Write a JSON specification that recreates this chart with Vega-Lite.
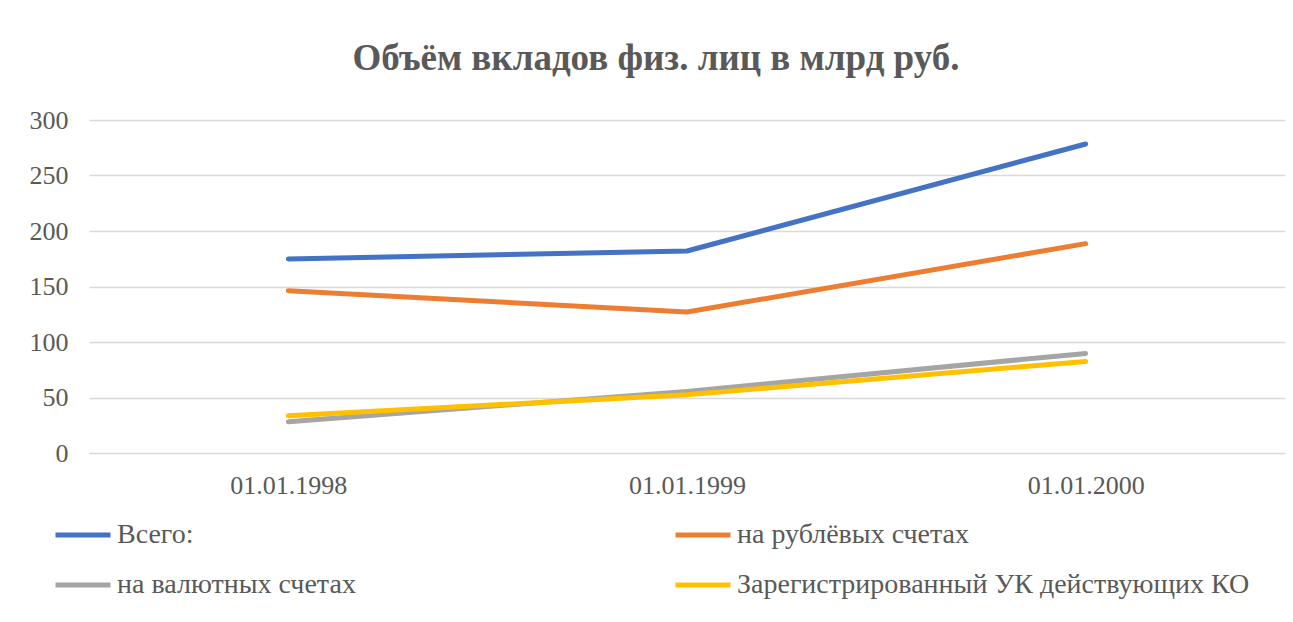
{
  "$schema": "https://vega.github.io/schema/vega-lite/v6.json",
  "autosize": {"type": "none"},
  "padding": {"left": 89, "top": 120, "right": 8, "bottom": 169},
  "width": 1196,
  "height": 333,
  "background": "white",
  "config": {
    "view": {"stroke": null},
    "font": "Liberation Serif"
  },
  "title": {
    "text": "Объём вкладов физ. лиц в млрд руб.",
    "font": "Liberation Serif",
    "fontSize": 37,
    "fontWeight": "bold",
    "color": "#595959",
    "anchor": "middle",
    "dx": -31,
    "offset": 29
  },
  "data": {
    "values": [
      {"date": "01.01.1998", "series": "Всего:", "value": 174.8},
      {"date": "01.01.1999", "series": "Всего:", "value": 182},
      {"date": "01.01.2000", "series": "Всего:", "value": 278.4},
      {"date": "01.01.1998", "series": "на рублёвых счетах", "value": 146.2},
      {"date": "01.01.1999", "series": "на рублёвых счетах", "value": 127},
      {"date": "01.01.2000", "series": "на рублёвых счетах", "value": 188.6},
      {"date": "01.01.1998", "series": "на валютных счетах", "value": 28.2},
      {"date": "01.01.1999", "series": "на валютных счетах", "value": 55.5},
      {"date": "01.01.2000", "series": "на валютных счетах", "value": 89.7},
      {"date": "01.01.1998", "series": "Зарегистрированный УК действующих КО", "value": 33.6},
      {"date": "01.01.1999", "series": "Зарегистрированный УК действующих КО", "value": 52.5},
      {"date": "01.01.2000", "series": "Зарегистрированный УК действующих КО", "value": 82.5}
    ]
  },
  "mark": {"type": "line", "strokeWidth": 5, "strokeCap": "round", "strokeJoin": "round"},
  "encoding": {
    "x": {
      "field": "date",
      "type": "ordinal",
      "scale": {"type": "point", "padding": 0.5},
      "axis": {
        "title": null,
        "labelAngle": 0,
        "labelFont": "Liberation Serif",
        "labelFontSize": 26,
        "labelColor": "#595959",
        "labelPadding": 19,
        "ticks": false,
        "domain": false,
        "grid": false
      }
    },
    "y": {
      "field": "value",
      "type": "quantitative",
      "scale": {"domain": [0, 300], "nice": false},
      "axis": {
        "title": null,
        "values": [0, 50, 100, 150, 200, 250, 300],
        "labelFont": "Liberation Serif",
        "labelFontSize": 26,
        "labelColor": "#595959",
        "labelPadding": 21,
        "ticks": false,
        "domain": false,
        "grid": true,
        "gridColor": "#D9D9D9",
        "gridWidth": 1.5
      }
    },
    "color": {
      "field": "series",
      "type": "nominal",
      "sort": ["Всего:", "на валютных счетах", "на рублёвых счетах", "Зарегистрированный УК действующих КО"],
      "scale": {
        "domain": ["Всего:", "на валютных счетах", "на рублёвых счетах", "Зарегистрированный УК действующих КО"],
        "range": ["#4472C4", "#A5A5A5", "#ED7D31", "#FFC000"]
      },
      "legend": {
        "title": null,
        "orient": "none",
        "legendX": -36,
        "legendY": 385,
        "columns": 2,
        "columnPadding": 309,
        "rowPadding": 6,
        "symbolType": "stroke",
        "symbolSize": 3025,
        "symbolStrokeWidth": 5,
        "labelFont": "Liberation Serif",
        "labelFontSize": 28,
        "labelColor": "#595959",
        "labelOffset": 4,
        "labelLimit": 600
      }
    }
  }
}
